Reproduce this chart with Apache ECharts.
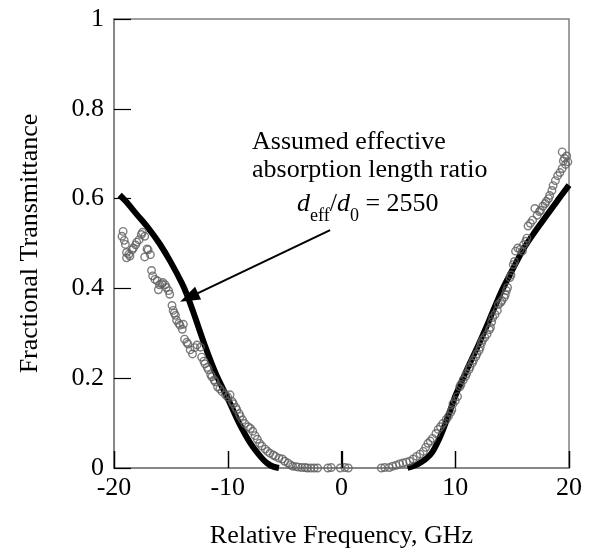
<!DOCTYPE html>
<html>
<head>
<meta charset="utf-8">
<script src="https://cdn.jsdelivr.net/npm/echarts@6/dist/echarts.min.js"></script>
<style>html,body{margin:0;padding:0;background:#fff}#chart{width:592px;height:554px}</style>
</head>
<body>
<div id="chart"></div>
<script>
var xTicks = [-20, -10, 0, 10, 20];
var yTicks = [0, 0.2, 0.4, 0.6, 0.8, 1];

// fitted curve (black), left and right branches
var fitLeft = [[-19.5,0.608],[-19,0.595],[-18,0.565],[-17,0.535],[-16,0.5],[-15,0.458],[-14,0.41],[-13.5,0.38],[-13,0.345],[-12,0.272],[-11,0.207],[-10,0.155],[-9,0.1],[-8,0.055],[-7,0.022],[-6.5,0.01],[-6,0.003],[-5.5,0]];
var fitRight = [[5.8,0],[6.5,0.006],[7,0.013],[7.5,0.022],[8,0.036],[8.5,0.06],[9,0.09],[9.5,0.124],[10,0.16],[11,0.218],[12,0.272],[13,0.33],[14,0.39],[15,0.44],[16,0.488],[17,0.526],[18,0.561],[19,0.596],[20,0.63]];

// measured data (grey open circles)
var measured = [[-19.3,0.516],[-19.2,0.527],[-19.1,0.507],[-19.0,0.498],[-18.9,0.48],[-18.9,0.468],[-18.7,0.476],[-18.6,0.472],[-18.4,0.486],[-18.3,0.49],[-18.1,0.497],[-18.0,0.503],[-17.8,0.508],[-17.6,0.52],[-17.5,0.525],[-17.3,0.516],[-17.3,0.47],[-17.1,0.488],[-17.0,0.486],[-16.8,0.475],[-16.7,0.44],[-16.6,0.428],[-16.4,0.42],[-16.2,0.417],[-16.1,0.397],[-16.0,0.408],[-15.8,0.41],[-15.7,0.413],[-15.5,0.408],[-15.4,0.402],[-15.2,0.395],[-15.1,0.387],[-14.9,0.362],[-14.8,0.351],[-14.7,0.345],[-14.6,0.34],[-14.5,0.329],[-14.3,0.322],[-14.2,0.318],[-14.0,0.309],[-13.9,0.32],[-13.8,0.287],[-13.6,0.28],[-13.5,0.276],[-13.3,0.263],[-13.1,0.254],[-12.9,0.268],[-12.7,0.274],[-12.4,0.269],[-12.3,0.247],[-12.1,0.238],[-12.0,0.232],[-11.8,0.224],[-11.7,0.219],[-11.5,0.208],[-11.4,0.203],[-11.2,0.196],[-11.1,0.192],[-10.9,0.181],[-10.7,0.176],[-10.5,0.17],[-10.2,0.163],[-10.0,0.158],[-9.8,0.163],[-9.6,0.148],[-9.5,0.143],[-9.3,0.135],[-9.2,0.13],[-9.0,0.121],[-8.9,0.115],[-8.7,0.107],[-8.5,0.099],[-8.2,0.092],[-8.0,0.088],[-7.8,0.082],[-7.6,0.072],[-7.4,0.064],[-7.2,0.055],[-7.0,0.049],[-6.7,0.042],[-6.5,0.037],[-6.3,0.033],[-6.0,0.029],[-5.8,0.026],[-5.5,0.022],[-5.2,0.02],[-5.0,0.015],[-4.7,0.011],[-4.5,0.007],[-4.3,0.004],[-4.0,0.003],[-3.8,0.002],[-3.5,0.001],[-3.2,0.001],[-3.0,0.0],[-2.7,0.0],[-2.4,0.0],[-2.1,0.0],[-1.2,0.0],[-0.9,0.001],[-0.1,0.0],[0.3,0.001],[0.6,0.0],
[3.5,0],[3.8,0.001],[4.2,0.001],[4.5,0.004],[4.8,0.006],[5.1,0.009],[5.4,0.011],[5.7,0.013],[6.0,0.015],[6.3,0.02],[6.6,0.026],[6.9,0.031],[7.2,0.037],[7.4,0.046],[7.6,0.055],[7.8,0.06],[8.0,0.066],[8.3,0.077],[8.5,0.086],[8.7,0.092],[8.9,0.099],[9.2,0.108],[9.4,0.115],[9.6,0.124],[9.7,0.13],[9.8,0.143],[10.0,0.15],[10.2,0.159],[10.4,0.181],[10.5,0.186],[10.7,0.196],[10.9,0.204],[11.0,0.21],[11.2,0.219],[11.3,0.225],[11.5,0.234],[11.6,0.24],[11.8,0.248],[11.9,0.254],[12.1,0.262],[12.2,0.269],[12.3,0.278],[12.4,0.285],[12.6,0.291],[12.8,0.298],[13.0,0.308],[13.1,0.313],[13.2,0.325],[13.3,0.335],[13.5,0.342],[13.7,0.351],[13.8,0.364],[14.0,0.369],[14.1,0.373],[14.3,0.38],[14.4,0.386],[14.5,0.395],[14.6,0.402],[14.8,0.424],[14.9,0.43],[15.1,0.453],[15.2,0.46],[15.3,0.483],[15.5,0.49],[15.7,0.487],[15.9,0.483],[16.0,0.497],[16.2,0.505],[16.3,0.512],[16.4,0.539],[16.6,0.545],[16.8,0.552],[17.0,0.578],[17.2,0.563],[17.4,0.571],[17.5,0.574],[17.7,0.583],[17.9,0.589],[18.0,0.594],[18.2,0.6],[18.3,0.607],[18.5,0.618],[18.6,0.629],[18.8,0.64],[19.0,0.651],[19.2,0.658],[19.4,0.667],[19.4,0.704],[19.5,0.684],[19.6,0.69],[19.8,0.695],[19.9,0.682],[19.7,0.676]];

// annotation arrow (data coords): from tail to head
var arrowTail = [-1.0, 0.53];
var arrowHead = [-13.4, 0.38];

var FONT = '"Liberation Serif", "Times New Roman", serif';
var TICK_PX = 17;

var chart = echarts.init(document.getElementById('chart'));
var fitData = fitLeft.concat([[0, null]]).concat(fitRight);

var annotations = [
  { type: 'text', left: 252, top: 129, style: { text: 'Assumed effective', font: '26px ' + FONT, fill: '#000' } },
  { type: 'text', left: 252, top: 157, style: { text: 'absorption length ratio', font: '26px ' + FONT, fill: '#000' } },
  { type: 'text', left: 297, top: 191, style: {
      text: '{i|d}{s|eff}{n|/}{i|d}{s|0}{n| = 2550}',
      rich: {
        i: { fontFamily: FONT, fontSize: 26, fontStyle: 'italic', lineHeight: 30, verticalAlign: 'top', fill: '#000' },
        n: { fontFamily: FONT, fontSize: 26, lineHeight: 30, verticalAlign: 'top', fill: '#000' },
        s: { fontFamily: FONT, fontSize: 18, lineHeight: 18, padding: [16, 0, 0, 0], verticalAlign: 'top', fill: '#000' }
      }
    } }
];

chart.setOption({
  animation: false,
  backgroundColor: '#fff',
  grid: { left: 114, right: 23, top: 19, bottom: 82, show: true, borderColor: '#808080', borderWidth: 1.5, backgroundColor: 'transparent' },
  xAxis: {
    type: 'value', min: -20, max: 20, interval: 10, position: 'bottom',
    name: 'Relative Frequency, GHz', nameLocation: 'middle', nameGap: 55,
    nameTextStyle: { fontFamily: FONT, fontSize: 26, color: '#000' },
    axisLine: { show: true, onZero: false, lineStyle: { color: '#808080', width: 1.5 } },
    axisTick: { show: true, inside: true, length: TICK_PX, lineStyle: { color: '#000', width: 1.2 } },
    axisLabel: { fontFamily: FONT, fontSize: 26, color: '#000', margin: 7 },
    splitLine: { show: false }
  },
  yAxis: {
    type: 'value', min: 0, max: 1, interval: 0.2, position: 'left',
    name: 'Fractional Transmittance', nameLocation: 'middle', nameGap: 71, nameRotate: 90,
    nameTextStyle: { fontFamily: FONT, fontSize: 26, color: '#000' },
    axisLine: { show: true, onZero: false, lineStyle: { color: '#808080', width: 1.5 } },
    axisTick: { show: true, inside: true, length: TICK_PX, lineStyle: { color: '#000', width: 1.2 } },
    axisLabel: { fontFamily: FONT, fontSize: 26, color: '#000', margin: 10,
      formatter: function (v) { return String(Math.round(v * 10) / 10); } },
    splitLine: { show: false }
  },
  series: [
    {
      type: 'line', data: fitData, showSymbol: false, smooth: 0.3, connectNulls: false,
      lineStyle: { color: '#000', width: 6 }, z: 2,
      markLine: {
        silent: true, symbol: ['none', 'triangle'], symbolSize: [14, 20],
        lineStyle: { color: '#000', width: 2, type: 'solid' },
        label: { show: false },
        data: [[{ coord: arrowTail }, { coord: arrowHead }]]
      }
    },
    {
      type: 'scatter', data: measured, symbol: 'circle', symbolSize: 7.5,
      itemStyle: { color: 'rgba(0,0,0,0)', borderColor: '#5e5e5e', borderWidth: 1.4 }, z: 3
    }
  ],
  graphic: annotations
});

// inward x-axis ticks, positioned through the x-axis scale
var y0px = chart.convertToPixel({ yAxisIndex: 0 }, 0);
var tickGraphics = xTicks.map(function (t) {
  var px = Math.round(chart.convertToPixel({ xAxisIndex: 0 }, t)) + 0.5;
  return { type: 'line', z: 100, silent: true,
    shape: { x1: px, y1: y0px, x2: px, y2: y0px - TICK_PX },
    style: { stroke: '#000', lineWidth: 1.3 } };
});
chart.setOption({ graphic: annotations.concat(tickGraphics) });
</script>
</body>
</html>
